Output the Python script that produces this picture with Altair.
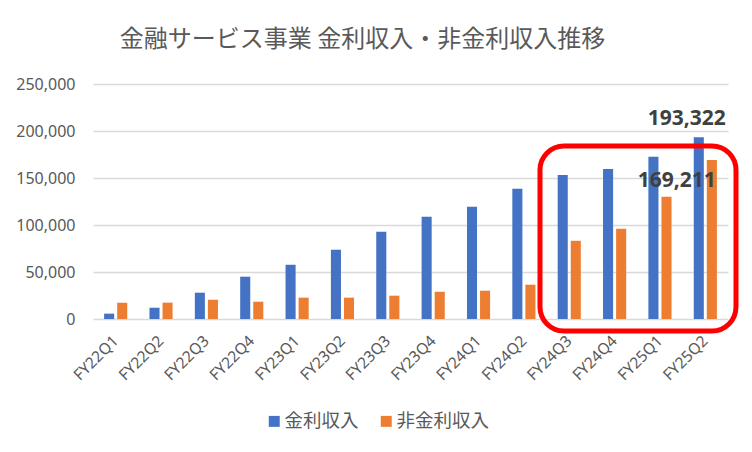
import altair as alt
import pandas as pd

quarters = ["FY22Q1", "FY22Q2", "FY22Q3", "FY22Q4", "FY23Q1", "FY23Q2", "FY23Q3",
            "FY23Q4", "FY24Q1", "FY24Q2", "FY24Q3", "FY24Q4", "FY25Q1", "FY25Q2"]
interest = [5700, 12000, 28000, 45000, 57700, 73700, 92800,
            108700, 119300, 138500, 153300, 159700, 172500, 193322]
non_interest = [17400, 17400, 20500, 18400, 22700, 22700, 24800,
                29000, 30100, 36500, 83200, 96000, 130000, 169211]
series_names = ["金利収入", "非金利収入"]
series_colors = ["#4472C4", "#ED7D31"]
y_ticks = [0, 50000, 100000, 150000, 200000, 250000]
highlight_range = [184000, -12800]  # vertical extent of the red highlight box (data units)

rows = []
for q, a, b in zip(quarters, interest, non_interest):
    rows.append({"quarter": q, "series": series_names[0], "value": a})
    rows.append({"quarter": q, "series": series_names[1], "value": b})
df = pd.DataFrame(rows)

FONT = "Noto Sans"
JP = "Noto Sans CJK JP"
GREY = "#595959"

x_enc = alt.X("quarter:N", sort=quarters,
              scale=alt.Scale(paddingInner=0.49, paddingOuter=0.245),
              axis=alt.Axis(title=None, labelAngle=-45, labelFont=FONT, labelFontSize=15.5,
                            labelColor=GREY, ticks=False, domain=False, labelPadding=19,
                            labelAlign="right", labelBaseline="middle"))
xo_enc = alt.XOffset("series:N", sort=series_names, scale=alt.Scale(paddingInner=0.23))
y_enc = alt.Y("value:Q", scale=alt.Scale(domain=[0, 250000], nice=False),
              axis=alt.Axis(title=None, values=y_ticks, format=",.0f", labelFont=FONT,
                            labelFontSize=16, labelColor=GREY, ticks=False, domain=False,
                            labelPadding=18, gridColor="#D9D9D9", gridWidth=1.5))

bars = alt.Chart(df).mark_bar().encode(
    x=x_enc, xOffset=xo_enc, y=y_enc,
    color=alt.Color("series:N", sort=series_names,
                    scale=alt.Scale(domain=series_names, range=series_colors),
                    legend=alt.Legend(title=None, orient="none", direction="horizontal",
                                      legendX=172, legendY=328, symbolType="square",
                                      symbolSize=120, symbolStrokeWidth=0,
                                      labelFont=JP, labelFontSize=18.5, labelColor=GREY,
                                      columnPadding=18, labelOffset=1)),
)

last_q = quarters[-1]
lab_a = df[(df.quarter == last_q) & (df.series == series_names[0])].copy()
lab_b = df[(df.quarter == last_q) & (df.series == series_names[1])].copy()

text_a = alt.Chart(lab_a).mark_text(font=FONT, fontSize=21, fontWeight="bold", color="#404040",
                                     baseline="bottom", dx=-12, dy=-8).encode(
    x=alt.X("quarter:N", sort=quarters), xOffset=xo_enc, y="value:Q",
    text=alt.Text("value:Q", format=","))
text_b = alt.Chart(lab_b).mark_text(font=FONT, fontSize=21, fontWeight="bold", color="#404040",
                                     baseline="middle", dx=-35, dy=21).encode(
    x=alt.X("quarter:N", sort=quarters), xOffset=xo_enc, y="value:Q",
    text=alt.Text("value:Q", format=","))

box_df = pd.DataFrame({"top": [highlight_range[0]], "bottom": [highlight_range[1]]})
box = alt.Chart(box_df).mark_rect(fillOpacity=0, stroke="#FF0000", strokeWidth=5,
                                  cornerRadius=24).encode(
    x=alt.value(447), x2=alt.value(643), y="top:Q", y2="bottom:Q")

chart = alt.layer(bars, box, text_a, text_b).properties(
    width=635, height=235,
    padding={"left": 85, "top": 76, "right": 16, "bottom": 125},
    autosize=alt.AutoSizeParams(type="none"),
    title=alt.TitleParams("金融サービス事業 金利収入・非金利収入推移", font=JP, fontSize=24,
                          fontWeight="normal", color=GREY, anchor="middle", dx=-48, offset=24),
    background="white",
).configure_view(stroke=None)

chart.save("out.html", embed_options={"renderer": "svg", "actions": False})
